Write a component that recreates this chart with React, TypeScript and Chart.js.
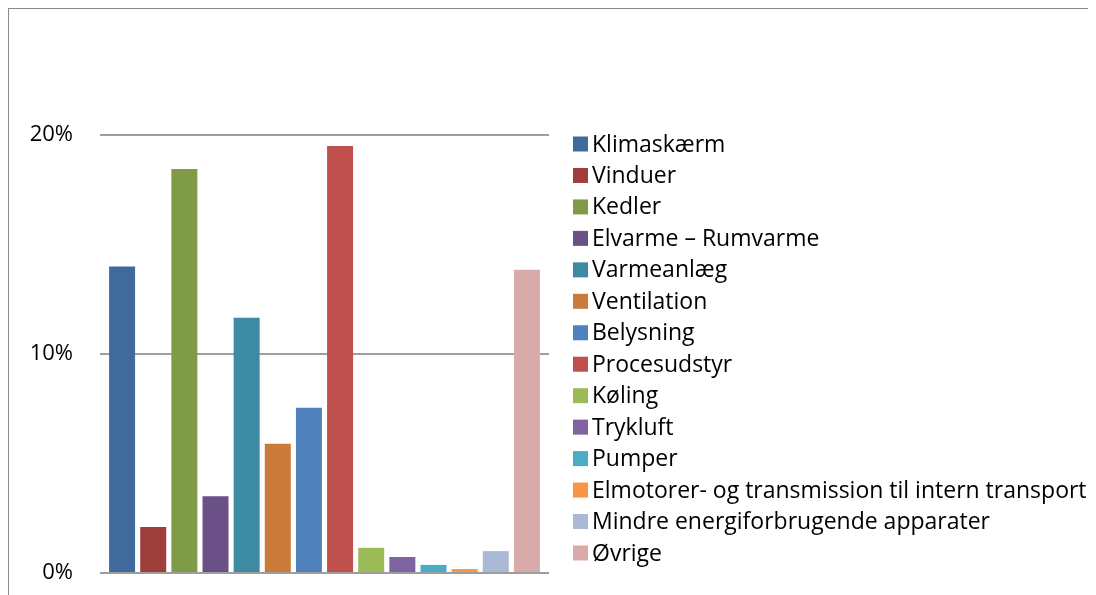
import React, { useEffect, useRef } from "react";
import { Chart, registerables } from "chart.js";

Chart.register(...registerables);

const categories = [""];
const seriesLabels = [
  "Klimaskærm",
  "Vinduer",
  "Kedler",
  "Elvarme – Rumvarme",
  "Varmeanlæg",
  "Ventilation",
  "Belysning",
  "Procesudstyr",
  "Køling",
  "Trykluft",
  "Pumper",
  "Elmotorer- og transmission til intern transport",
  "Mindre energiforbrugende apparater",
  "Øvrige",
];
const seriesValues = [14.0, 2.1, 18.45, 3.5, 11.65, 5.9, 7.55, 19.5, 1.15, 0.73, 0.37, 0.18, 1.0, 13.85];
const seriesColors = [
  "#3F6A9B",
  "#9E3F3C",
  "#809B48",
  "#6A5086",
  "#3C8BA3",
  "#CB7B39",
  "#4F81BD",
  "#C0504D",
  "#9BBB59",
  "#8064A2",
  "#4BACC6",
  "#F79646",
  "#AAB9D6",
  "#D9AAAA",
];
const yTicks = [0, 10, 20];

const FONT = "'Open Sans', Lato, sans-serif";

const legendPlugin = {
  id: "customLegend",
  afterDraw(chart: any) {
    const ctx = chart.ctx;
    const area = chart.chartArea;
    const x0 = area.right + 24;
    const y0 = area.top + 9;
    const pitch = 31.46;
    ctx.save();
    ctx.font = `23px ${FONT}`;
    ctx.textBaseline = "middle";
    ctx.textAlign = "left";
    chart.data.datasets.forEach((ds: any, i: number) => {
      const cy = y0 + i * pitch;
      ctx.fillStyle = ds.backgroundColor;
      ctx.fillRect(x0, cy - 7.5, 15, 15);
      ctx.fillStyle = "#000";
      ctx.fillText(ds.label, x0 + 19, cy + 1);
    });
    ctx.restore();
  },
};

export default function App() {
  const ref = useRef<HTMLCanvasElement | null>(null);

  useEffect(() => {
    document.documentElement.style.overflow = "hidden";
    document.body.style.overflow = "hidden";
    if (!ref.current) return;
    const chart = new Chart(ref.current, {
      type: "bar",
      data: {
        labels: categories,
        datasets: seriesLabels.map((label, i) => ({
          label,
          data: [seriesValues[i]],
          backgroundColor: seriesColors[i],
          borderWidth: 0,
          categoryPercentage: 0.971,
          barPercentage: 0.835,
        })),
      },
      options: {
        animation: false,
        responsive: false,
        maintainAspectRatio: false,
        layout: { padding: { top: 126, right: 558, bottom: 74, left: 0 } },
        plugins: {
          legend: { display: false },
          tooltip: { enabled: false },
          title: { display: false },
        },
        scales: {
          x: { display: false },
          y: {
            min: 0,
            max: 20,
            afterFit(scale: any) {
              scale.width = 91;
            },
            afterBuildTicks(scale: any) {
              scale.ticks = yTicks.map((v) => ({ value: v }));
            },
            border: { display: false },
            grid: { color: "#9E9E9E", lineWidth: 2, drawTicks: false },
            ticks: {
              padding: 27,
              color: "#000",
              font: { family: FONT, size: 22 },
              callback: (v: any) => `${v}%`,
            },
          },
        },
      },
      plugins: [legendPlugin],
    });
    return () => chart.destroy();
  }, []);

  return (
    <div
      style={{
        width: 1200,
        height: 640,
        border: "1px solid #8A8A8A",
        background: "#fff",
      }}
    >
      <canvas ref={ref} width={1098} height={638} style={{ display: "block" }} />
    </div>
  );
}
